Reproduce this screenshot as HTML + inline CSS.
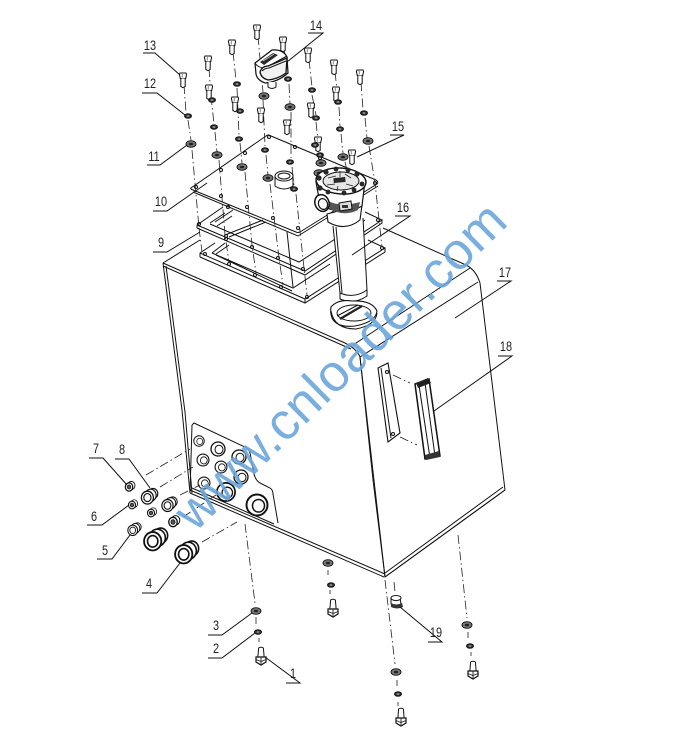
<!DOCTYPE html>
<html><head><meta charset="utf-8"><style>
html,body{margin:0;padding:0;background:#fff}
svg{display:block}
.l{fill:none;stroke:#111;stroke-width:1}
.d{fill:none;stroke:#222;stroke-width:.8;stroke-dasharray:9 3 1.5 3}
.lb{font-family:"Liberation Sans",sans-serif;font-size:14px;fill:#222;text-anchor:middle}
.k{fill:none;stroke:#222;stroke-width:.9}
</style></head><body>
<svg width="683" height="737" viewBox="0 0 683 737" xmlns="http://www.w3.org/2000/svg">
<defs>
<g id="b"><path d="M-3 -6h6l.6 1.5-.8 3.5v.5h-5.600v-.5l-.8-3.500z" fill="#fff" stroke="#111" stroke-width="1"/><path d="M-2.200 -.5v8l2.200 1.200 2.200-1.200v-8" fill="#fff" stroke="#111" stroke-width="1"/><path d="M-.8 -5v3.500" stroke="#555" stroke-width=".7"/></g>
<g id="u"><path d="M-2.400 -13q2.400-1.500 4.800 0l.8 10h-6.400z" fill="#fff" stroke="#111" stroke-width="1"/><path d="M-5 -4h10v5l-5 3-5-3z" fill="#fff" stroke="#111" stroke-width="1.200"/><path d="M0 -4v8M-5 -1.500l5 2 5-2" class="k"/></g>
<g id="n"><ellipse rx="4" ry="2.8" fill="#222"/><ellipse rx="1.600" ry="1" fill="#888"/></g>
<g id="w"><ellipse rx="5" ry="3.300" fill="#777" stroke="#111" stroke-width=".9"/><ellipse rx="2.200" ry="1.300" fill="#222"/></g>
<g id="f"><ellipse cx="3" cy="-2" rx="5" ry="5.500" fill="#fff" stroke="#111" stroke-width="1.200"/><ellipse cx="0" cy="0" rx="5" ry="5.500" fill="#fff" stroke="#111" stroke-width="1.600"/><ellipse cx="0" cy="0" rx="2.400" ry="2.700" fill="#555" stroke="#111"/></g>
<g id="g"><path d="M-6 -2l8-6 7 3-1 8-8 5-7-3z" fill="#fff"/><ellipse cx="5" cy="-3" rx="6" ry="6.500" fill="#fff" stroke="#111" stroke-width="1.400"/><ellipse cx="2" cy="-1" rx="7" ry="7.500" fill="#fff" stroke="#111" stroke-width="1.400"/><ellipse cx="-2" cy="2" rx="7.500" ry="8" fill="#fff" stroke="#111" stroke-width="1.600"/><ellipse cx="-2" cy="2" rx="4.500" ry="5" fill="#fff" stroke="#111" stroke-width="1.400"/></g>
<g id="p"><ellipse rx="7" ry="7" fill="#fff" stroke="#111" stroke-width="1.300"/><ellipse cx="1" cy=".5" rx="4" ry="4.200" fill="#fff" stroke="#111" stroke-width="1"/></g>
</defs>
<rect width="683" height="737" fill="#fff"/>

<!-- tank -->
<path d="M163 263L200 240M383 228L466 265Q476 270 480 283L505 490L385 577L360 357" class="l" stroke-width="1.100"/>
<path d="M353 345L470 268M360 357L478 282" class="l"/>
<path d="M163 263L345 343Q357 349 360 357" class="l" stroke-width="1.600"/>
<path d="M163 266L351 349" class="l" stroke-width=".6"/>
<path d="M163 263L182 410L190 493" class="l" stroke-width="1.400"/>
<path d="M166 266L185 412L192 493" class="l" stroke-width=".7"/>
<path d="M360 357L373 480L385 577" class="l" stroke-width="1.400"/>
<path d="M190 493L384 577" class="l" stroke-width="1.600"/>
<path d="M190 490L385 574M192 488L274 524" class="l" stroke-width=".6"/>
<path d="M385 577L505 490M385 573L503 487" class="l" stroke-width=".8"/>

<!-- panel -->
<path d="M192 425L194 423L247 448Q250 450 251 458L254 474Q256 482 262 484L270 488Q273 490 273 494L278 523" class="l" stroke-width="1.400"/>
<path d="M192 425L190 493" class="l" stroke-width="1.200"/>
<use href="#p" transform="translate(199 441) scale(.75)"/>
<use href="#p" transform="translate(218 449)"/>
<use href="#p" transform="translate(239 457)"/>
<use href="#p" transform="translate(203 460) scale(.85)"/>
<use href="#p" transform="translate(221 467) scale(.85)"/>
<use href="#p" transform="translate(241 477)"/>
<use href="#p" transform="translate(204 483) scale(.85)"/>
<use href="#p" transform="translate(226 492) scale(1.300)"/>
<use href="#p" transform="translate(257 505) scale(1.500)"/>

<!-- bracket and gauge -->
<path d="M378 368L388 363L400 433L388 442Z" fill="#fff" stroke="#111" stroke-width="1.100"/>
<path d="M381 368L391 438" class="l" stroke-width=".6"/>
<circle cx="387" cy="372" r="1.500" class="l"/><circle cx="393" cy="434" r="1.500" class="l"/>
<path d="M393 375L410 383M400 437L417 445" class="d"/>
<path d="M415 384L429 379L440 456L425 459Z" fill="#fff" stroke="#111" stroke-width="1.500"/>
<path d="M419 385L430 458M425 383L435 456" class="l"/>
<path d="M416 383l12-5 3 5-13 5z" fill="#222"/>
<path d="M425 455l14-4 1 6-14 3z" fill="#333"/>

<!-- lower gasket -->
<path d="M200 253L222 238L385 248L385 254L305 304L200 258Z" fill="#fff" stroke="none"/>
<path d="M200 253L215 243M200 253L305 299L385 248L368 240M200 257L305 303L385 252V248M200 253V257M305 299V303" class="l" stroke-width="1.100"/>
<path d="M212 253L225 243M212 253L293 288L330 264M216 254L229 245M216 255L292 291" class="l" stroke-width=".9"/>
<!-- gasket 9 -->
<path d="M197 225L223 207L382 220L303 271Z" fill="#fff" stroke="none"/>
<path d="M197 225L223 207M197 225L305 271L382 220L365 212M197 228L305 275L382 223V220M197 225V228" class="l" stroke-width="1.100"/>
<path d="M210 223L225 213M210 224L299 262L365 220M215 222L233 210M225 235L263 220M229 237L266 222M217 226L232 216" class="l" stroke-width=".9"/>
<!-- plate 10 -->
<path d="M192 187L268 135L378 182L298 232Z" fill="#fff"/>
<path d="M191 188L266 136Q268 134 271 136L376 180Q379 182 377 184L300 232Q298 233 296 232L193 190Q190 189 191 188Z" class="l" stroke-width="1"/>
<path d="M193 192L298 236L378 186" class="l" stroke-width=".9"/>
<!-- plate holes -->
<g class="l" stroke-width=".8">
<circle cx="196" cy="187" r="1.500"/><circle cx="221" cy="170" r="1.500"/><circle cx="245" cy="153" r="1.500"/><circle cx="269" cy="137" r="1.500"/><circle cx="295" cy="147" r="1.500"/><circle cx="320" cy="158" r="1.500"/><circle cx="221" cy="196" r="1.500"/><circle cx="247" cy="207" r="1.500"/><circle cx="273" cy="218" r="1.500"/><circle cx="298" cy="228" r="1.500"/><circle cx="199" cy="224" r="1.500"/><circle cx="226" cy="236" r="1.500"/><circle cx="252" cy="247" r="1.500"/><circle cx="278" cy="258" r="1.500"/><circle cx="303" cy="269" r="1.500"/><circle cx="205" cy="254" r="1.500"/><circle cx="229" cy="264" r="1.500"/><circle cx="255" cy="275" r="1.500"/><circle cx="281" cy="287" r="1.500"/><circle cx="307" cy="297" r="1.500"/><circle cx="382" cy="248" r="1.500"/><circle cx="378" cy="220" r="1.500"/><circle cx="375" cy="183" r="1.500"/><circle cx="228" cy="207" r="1.500"/><circle cx="226" cy="239" r="1.500"/>
</g>
<!-- dash lines -->
<path d="M184 85L186 112M188 120L191 140M192 150L199 228M199 228L202 252" class="d"/>
<path d="M209 68L211 96M211 96L214 124M215 132L217 152M219 160L225 235L229 262" class="d"/>
<path d="M233 52L236 80M237 88L239 135M240 143L242 163M245 172L252 245L256 273" class="d"/>
<path d="M258 36L263 92M263 100L265 146M266 155L268 175M270 184L279 258L283 285" class="d"/>
<path d="M284 48L288 75M289 84L290 104M291 112L291 158M292 167L294 185M296 194L304 268L307 295" class="d"/>
<path d="M287 232L293 287" class="l" stroke-width=".9"/>
<path d="M309 60L312 87M312 95L316 115M316 122L319 150M335 72L338 99M339 107L340 126M341 134L343 153M345 162L348 175" class="d"/>
<path d="M361 82L363 110M365 118L367 138M369 146L375 183L382 247" class="d"/>
<!-- bolts & washers -->
<use href="#b" x="183" y="79"/><use href="#b" x="208" y="62"/><use href="#b" x="209" y="91"/><use href="#b" x="232" y="46"/><use href="#b" x="235" y="103"/><use href="#b" x="257" y="31"/><use href="#b" x="261" y="114"/><use href="#b" x="283" y="43"/><use href="#b" x="287" y="126"/><use href="#b" x="308" y="54"/><use href="#b" x="311" y="109"/><use href="#b" x="318" y="143"/><use href="#b" x="334" y="66"/><use href="#b" x="336" y="93"/><use href="#b" x="360" y="76"/><use href="#b" x="352" y="156"/>
<use href="#n" x="188" y="116"/><use href="#n" x="212" y="100"/><use href="#n" x="237" y="84"/><use href="#n" x="214" y="127"/><use href="#n" x="240" y="111"/><use href="#n" x="288" y="79"/><use href="#n" x="312" y="90"/><use href="#n" x="316" y="118"/><use href="#n" x="338" y="102"/><use href="#n" x="340" y="129"/><use href="#n" x="364" y="113"/><use href="#n" x="239" y="139"/><use href="#n" x="265" y="150"/><use href="#n" x="290" y="162"/><use href="#n" x="294" y="189"/><use href="#n" x="315" y="145"/><use href="#n" x="320" y="155"/>
<use href="#w" x="264" y="96"/><use href="#w" x="290" y="107"/><use href="#w" x="368" y="141"/><use href="#w" x="191" y="144"/><use href="#w" x="217" y="155"/><use href="#w" x="242" y="167"/><use href="#w" x="268" y="178"/><use href="#w" x="321" y="163"/><use href="#w" x="319" y="173"/><use href="#w" x="343" y="157"/>
<!-- sleeve -->
<path d="M275 176l0 10q9 6 18 0v-10" fill="#fff" stroke="#111"/><ellipse cx="284" cy="176" rx="9" ry="5" fill="#fff" stroke="#111"/><ellipse cx="284" cy="176" rx="6" ry="3" fill="#fff" stroke="#111"/>
<!-- cap 14 -->
<path d="M255 63L272 50Q283 49 287 57L288 73Q278 82 265 83Q257 80 256 74Z" fill="#fff" stroke="#111" stroke-width="1.200"/>
<path d="M255 63Q258 68 265 68L287 56" class="l"/>
<path d="M260 72q2-6 8-6q10-4 19-8l-1 15q-8 6-18 7q-7-2-8-8z" fill="#f0f0f0" stroke="#111" stroke-width="1.300"/>
<path d="M262 71q3-3 7-3l17-7" class="l" stroke-width=".7"/>
<path d="M260 62l13-9 5 2-14 10z" fill="#2a2a2a"/>
<path d="M263 61l11-7" stroke="#ccc" stroke-width=".8"/>
<path d="M268 82v5q4 3 8 0v-5" fill="#fff" stroke="#111"/>
<!-- filter -->
<path d="M333 225L340 293Q352 299 367 290L363 218Z" fill="#fff"/>
<path d="M333 226L340 293M363 218L367 290" class="l" stroke-width="1.100"/>
<path d="M336 227L342 293" class="l" stroke-width=".5"/>
<path d="M340 293q14 6 27-3v6q-13 9-27 3z" fill="#fff" stroke="#111"/>
<path d="M327 214L328 222Q345 232 360 220L362 205Z" fill="#fff" stroke="#111" stroke-width="1.100"/>
<path d="M316 182L320 204Q342 218 362 206L365 181Z" fill="#fff" stroke="#111" stroke-width="1.200"/>
<ellipse cx="341" cy="181" rx="25" ry="13" fill="#fff" stroke="#111" stroke-width="1.400" transform="rotate(4 341 181)"/>
<ellipse cx="341" cy="181" rx="18" ry="9" fill="#e6e6e6" stroke="#111"/>
<g fill="#2a2a2a" stroke="#222" stroke-width=".8"><circle cx="319" cy="178" r="2.200"/><circle cx="326" cy="172" r="2.200"/><circle cx="336" cy="169" r="2"/><circle cx="348" cy="170" r="2"/><circle cx="357" cy="174" r="2.200"/><circle cx="362" cy="184" r="2"/><circle cx="320" cy="188" r="2.200"/><circle cx="328" cy="192" r="2"/><circle cx="344" cy="193" r="2"/><circle cx="354" cy="190" r="2"/><rect x="334" y="178" width="11" height="4" transform="rotate(-6 340 180)"/><path d="M328 178l8-2M345 174l6 4M340 171v6M327 185l8-1M346 184l7 2M338 186l-1 5" fill="none"/></g>
<path d="M326 200q14 8 34 2l-2 8q-14 7-28-1z" fill="#555"/>
<path d="M339 203l12-2 1 8-12 2z" fill="#ddd" stroke="#111"/><path d="M342 205h6v3h-6z" fill="#333"/>
<ellipse cx="322" cy="203" rx="7" ry="8.500" transform="rotate(-20 322 203)" fill="#fff" stroke="#111" stroke-width="1.500"/>
<ellipse cx="323" cy="204" rx="4.500" ry="5.500" transform="rotate(-20 323 204)" fill="#fff" stroke="#111" stroke-width="1.200"/>
<!-- flange -->
<path d="M331 307Q338 299 352 301Q372 300 377 311Q376 322 355 326Q337 328 332 318Q330 312 331 307Z" fill="#fff" stroke="#111" stroke-width="1.100"/>
<path d="M331 311Q334 329 356 329Q376 325 377 313" class="l"/>
<ellipse cx="354" cy="313" rx="17" ry="8" class="l"/>
<path d="M340 319L362 306" stroke="#222" stroke-width="2.200"/><path d="M337 316L358 305" class="l" stroke-width=".7"/>
<!-- fittings -->
<path d="M146 475L190 449M160 487L193 467M180 495L200 485M183 517L216 495M202 542L237 522" class="d"/>
<use href="#f" transform="translate(129 487) scale(.75)"/>
<use href="#g" transform="translate(149 496) scale(.8)"/>
<use href="#f" transform="translate(132 505) scale(.7)"/>
<use href="#f" transform="translate(151 513) scale(.7)"/>
<use href="#g" transform="translate(169 504) scale(.75)"/>
<use href="#f" transform="translate(173 522) scale(.85)"/>
<use href="#g" transform="translate(134 529) scale(.65)"/>
<use href="#g" transform="translate(155 539) scale(1.150)"/>
<use href="#g" transform="translate(186 552) scale(1.150)"/>
<!-- bottom -->
<path d="M245 524L255 603M256 617V624M259 638V642M385 580L395 664M397 680V686M398 702V706M458 535L467 618M468 632V638M471 652V656M328 570V575M330 590V594" class="d"/>
<path d="M394 582L395 592" class="d"/>
<use href="#w" x="256" y="611"/><use href="#n" x="258" y="632"/><use href="#u" x="261" y="661"/>
<use href="#w" x="328" y="563"/><use href="#n" x="331" y="585"/><use href="#u" x="333" y="613"/>
<use href="#w" x="396" y="672"/><use href="#n" x="398" y="694"/><use href="#u" x="401" y="722"/>
<use href="#w" x="467" y="625"/><use href="#n" x="470" y="646"/><use href="#u" x="473" y="675"/>
<path d="M391 598h9l1 6q-5 4-10 0z" fill="#fff" stroke="#111"/><path d="M391 603q5 3 11 0l1 4q-6 3-12 0z" fill="#333"/><ellipse cx="396" cy="598" rx="5" ry="2.500" fill="#fff" stroke="#111"/>
<!-- leaders -->
<g class="l" stroke-width=".9">
<path d="M143 53H155L180 75M142 93H157L185 115M147 165H160L187 145M308 33H323L287 62M390 135H404L357 157M153 211H167L207 183M395 216H410L352 255M153 252H167L200 232M497 281H511L455 318M498 356H512L434 411M428 642H442L400 607M286 683H300L265 657M208 658H222L255 633M208 635H222L252 613M142 593H157L180 563M97 559H112L130 535M87 525H102L129 505M89 458H103L127 485M115 459H129L150 488"/>
</g>
<g transform="translate(150 50) scale(.78 1)"><text class="lb">13</text></g>
<g transform="translate(150 88) scale(.78 1)"><text class="lb">12</text></g>
<g transform="translate(154 161) scale(.78 1)"><text class="lb">11</text></g>
<g transform="translate(316 30) scale(.78 1)"><text class="lb">14</text></g>
<g transform="translate(398 131) scale(.78 1)"><text class="lb">15</text></g>
<g transform="translate(161 206) scale(.78 1)"><text class="lb">10</text></g>
<g transform="translate(403 212) scale(.78 1)"><text class="lb">16</text></g>
<g transform="translate(161 247) scale(.78 1)"><text class="lb">9</text></g>
<g transform="translate(505 277) scale(.78 1)"><text class="lb">17</text></g>
<g transform="translate(506 351) scale(.78 1)"><text class="lb">18</text></g>
<g transform="translate(436 637) scale(.78 1)"><text class="lb">19</text></g>
<g transform="translate(293 678) scale(.78 1)"><text class="lb">1</text></g>
<g transform="translate(216 653) scale(.78 1)"><text class="lb">2</text></g>
<g transform="translate(216 630) scale(.78 1)"><text class="lb">3</text></g>
<g transform="translate(149 588) scale(.78 1)"><text class="lb">4</text></g>
<g transform="translate(105 555) scale(.78 1)"><text class="lb">5</text></g>
<g transform="translate(94 521) scale(.78 1)"><text class="lb">6</text></g>
<g transform="translate(96 453) scale(.78 1)"><text class="lb">7</text></g>
<g transform="translate(122 454) scale(.78 1)"><text class="lb">8</text></g>
<!-- watermark -->
<text x="195" y="533" transform="rotate(-44.500 195 533)" font-family="'Liberation Sans',sans-serif" font-size="52" fill="#6aa5da" fill-opacity=".9" textLength="441" lengthAdjust="spacing">www.cnloader.com</text>
</svg>
</body></html>
